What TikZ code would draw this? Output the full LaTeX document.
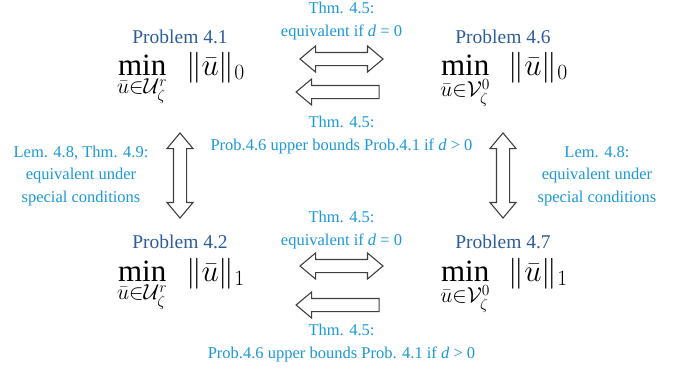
\RequirePackage{fix-cm}
\documentclass[tikz,border=0pt]{standalone}
\usepackage{amsmath}
\usepackage{fontspec}
\setmainfont{Liberation Serif}
\usetikzlibrary{shapes.arrows}
\definecolor{probblue}{RGB}{46,92,152}
\definecolor{noteblue}{RGB}{27,152,215}
\definecolor{arrowgray}{RGB}{64,64,64}
\begin{document}
\begin{tikzpicture}[x=1pt,y=-1pt,
  title/.style={font=\fontsize{19.5}{22}\selectfont, text=probblue, anchor=base, inner sep=0},
  prob/.style={font=\fontsize{31}{37}\selectfont, anchor=base, inner sep=0},
  note/.style={font=\fontsize{16.5}{22.5}\selectfont, text=noteblue, align=center, inner sep=0},
  bothway/.style={double arrow, draw=arrowgray, fill=white, line width=1.1pt, inner sep=6pt,
    double arrow head extend=6.5pt, double arrow tip angle=80, minimum height=83pt},
  backward/.style={single arrow, draw=arrowgray, fill=white, line width=1.1pt, inner sep=6pt,
    single arrow head extend=6.5pt, single arrow tip angle=80, minimum height=83pt, shape border rotate=180}]
\useasboundingbox (0,0) rectangle (690,373);
% problems
\node[title] (t41) at (180,43) {Problem 4.1};
\node[prob] (p41) at (181,75) {$\displaystyle\min_{\bar u\in\mathcal{U}_\zeta^r}\;\,\|\bar u\|_0$};
\node[title] (t46) at (503,43) {Problem 4.6};
\node[prob] (p46) at (504,75) {$\displaystyle\min_{\bar u\in\mathcal{V}_\zeta^0}\;\,\|\bar u\|_0$};
\node[title] (t42) at (180,248) {Problem 4.2};
\node[prob] (p42) at (181,281) {$\displaystyle\min_{\bar u\in\mathcal{U}_\zeta^r}\;\,\|\bar u\|_1$};
\node[title] (t47) at (503,248) {Problem 4.7};
\node[prob] (p47) at (504,281) {$\displaystyle\min_{\bar u\in\mathcal{V}_\zeta^0}\;\,\|\bar u\|_1$};
% block arrows
\node[bothway] (eq01) at (341.5,59) {};
\node[backward] (ub01) at (341.5,92) {};
\node[bothway] (eq12) at (341.5,266) {};
\node[backward] (ub12) at (341.5,305) {};
\node[bothway, shape border rotate=90, minimum height=85pt] (eqleft) at (180,175.5) {};
\node[bothway, shape border rotate=90, minimum height=85pt] (eqright) at (503,175.5) {};
% notes
\node[note] (n1) at (341.5,21) {Thm. 4.5:\\equivalent if \textit{d} = 0};
\node[note] (n2) at (341.5,135) {Thm. 4.5:\\Prob.4.6 upper bounds Prob.4.1 if \textit{d} > 0};
\node[note] (n3) at (81,176) {Lem. 4.8, Thm. 4.9:\\equivalent under\\special conditions};
\node[note] (n4) at (597,176) {Lem. 4.8:\\equivalent under\\special conditions};
\node[note] (n5) at (341.5,230) {Thm. 4.5:\\equivalent if \textit{d} = 0};
\node[note] (n6) at (341.5,343) {Thm. 4.5:\\Prob.4.6 upper bounds Prob. 4.1 if \textit{d} > 0};
\end{tikzpicture}
\end{document}
